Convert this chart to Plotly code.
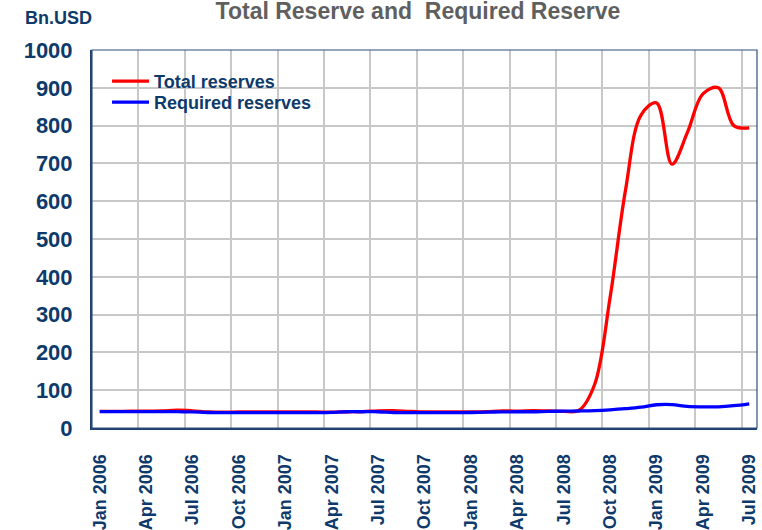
import plotly.graph_objects as go

# Monthly observations, Jan 2006 .. Jul 2009 (billions of USD)
months = [
    "2006-01", "2006-02", "2006-03", "2006-04", "2006-05", "2006-06",
    "2006-07", "2006-08", "2006-09", "2006-10", "2006-11", "2006-12",
    "2007-01", "2007-02", "2007-03", "2007-04", "2007-05", "2007-06",
    "2007-07", "2007-08", "2007-09", "2007-10", "2007-11", "2007-12",
    "2008-01", "2008-02", "2008-03", "2008-04", "2008-05", "2008-06",
    "2008-07", "2008-08", "2008-09", "2008-10", "2008-11", "2008-12",
    "2009-01", "2009-02", "2009-03", "2009-04", "2009-05", "2009-06",
    "2009-07",
]

total_reserves = [
    44, 44, 44.5, 44.5, 45, 47, 45.5, 42.5, 42, 42.5, 42.5, 42.5,
    42.5, 42.5, 42.5, 42, 43, 43.5, 45.5, 46, 44, 42.5, 42.5, 42.5,
    42.5, 43, 45.5, 44.5, 46, 45, 44, 47, 115, 345, 630, 828,
    860, 698, 782, 884, 900, 800, 794,
]

required_reserves = [
    43.5, 43.5, 43.5, 43.5, 43.5, 43.5, 42.5, 41, 40.5, 40.5, 40.5, 40.5,
    40.5, 40.5, 40.5, 41.5, 43, 43, 43, 41, 40.5, 40.5, 40.5, 40.5,
    41, 42, 42.5, 43, 43, 44, 44.5, 45, 46, 48, 51, 55,
    61.5, 62, 57, 56, 56, 59, 64,
]

tick_labels = [
    "Jan 2006", "Apr 2006", "Jul 2006", "Oct 2006",
    "Jan 2007", "Apr 2007", "Jul 2007", "Oct 2007",
    "Jan 2008", "Apr 2008", "Jul 2008", "Oct 2008",
    "Jan 2009", "Apr 2009", "Jul 2009",
]
tick_step = 3

NAVY = "#0E3A6B"
FONT = "Liberation Sans, Arial, sans-serif"

x = list(range(len(months)))
tickvals = x[::tick_step]
# gridlines sit on the category boundaries before each labelled month
grid_vals = [v - 0.5 for v in tickvals[1:]]

fig = go.Figure()
fig.add_trace(go.Scatter(
    x=x, y=total_reserves, name="Total reserves", mode="lines",
    line=dict(color="#FF0000", width=3.3, shape="spline", smoothing=1),
    customdata=months, hovertemplate="%{customdata}: %{y}<extra></extra>",
    legend="legend",
))
fig.add_trace(go.Scatter(
    x=x, y=required_reserves, name="Required reserves", mode="lines",
    line=dict(color="#0000FF", width=3.3, shape="spline", smoothing=1),
    customdata=months, hovertemplate="%{customdata}: %{y}<extra></extra>",
    legend="legend2",
))

legend_font = dict(family=FONT, size=18, color=NAVY, weight="bold")
legend_common = dict(xanchor="left", yanchor="top", bgcolor="rgba(0,0,0,0)",
                     borderwidth=0, font=legend_font, itemwidth=37)

fig.update_layout(
    width=762, height=530,
    margin=dict(l=92, r=5, t=50, b=102, autoexpand=False),
    paper_bgcolor="white", plot_bgcolor="white",
    font=dict(family=FONT, color=NAVY),
    title=dict(
        text="Total Reserve and\u00a0 Required Reserve",
        x=418 / 762, xref="container", xanchor="center",
        y=0.980, yref="container", yanchor="middle",
        font=dict(family=FONT, size=23, color="#5F5F5F", weight="bold"),
    ),
    legend=dict(x=0.0226, y=0.966, **legend_common),
    legend2=dict(x=0.0226, y=0.910, **legend_common),
    showlegend=True,
)

fig.update_xaxes(
    range=[-0.5, len(months) - 0.5],
    tickmode="array", tickvals=tickvals, ticktext=tick_labels,
    tickangle=-90, ticks="", ticklabelstandoff=17,
    tickfont=dict(family=FONT, size=18, color=NAVY, weight="bold"),
    showgrid=False, zeroline=False,
    showline=True, linecolor="#1F3F6F", linewidth=2,
    minor=dict(tickmode="array", tickvals=grid_vals, showgrid=True,
               gridcolor="#C8C8C8", gridwidth=1.5, ticks=""),
    automargin=False,
)
fig.update_yaxes(
    range=[0, 1000], dtick=100, tick0=0,
    ticks="", ticklabelstandoff=13,
    tickfont=dict(family=FONT, size=22, color=NAVY, weight="bold"),
    showgrid=True, gridcolor="#C8C8C8", gridwidth=1.5,
    zeroline=False,
    showline=True, linecolor="#1F3F6F", linewidth=2,
    automargin=False,
)

# white panel behind the legend entries, hiding the gridlines there
fig.add_shape(type="rect", xref="paper", yref="paper",
              x0=0.0165, x1=0.346, y0=0.831, y1=0.996,
              fillcolor="white", line=dict(width=0), layer="between")

# thin frame along the top and right of the plotting area
fig.add_shape(type="rect", xref="paper", yref="paper", x0=0, y0=0, x1=1, y1=1,
              line=dict(color="#2F4F7F", width=1.2), layer="above")

fig.add_annotation(
    text="Bn.USD", xref="paper", yref="paper",
    x=(23 - 92) / 665, y=(428 - 18) / 378, xanchor="left", yanchor="middle",
    showarrow=False, font=dict(family=FONT, size=18, color=NAVY, weight="bold"),
)

fig.write_html("out.html")
